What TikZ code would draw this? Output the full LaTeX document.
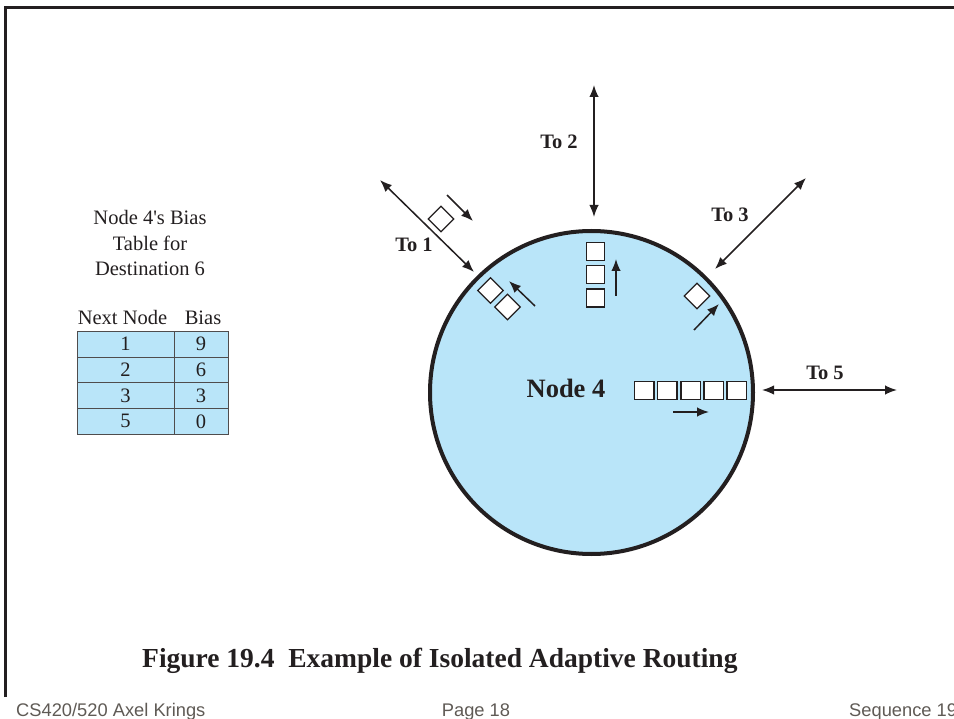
\documentclass[tikz,border=0pt]{standalone}
\usepackage{fontspec}
\setmainfont{Liberation Serif}
\newfontfamily\footfont{Liberation Sans}
\usetikzlibrary{arrows.meta}
\definecolor{nodeblue}{RGB}{185,229,249}
\definecolor{footgray}{RGB}{95,90,85}
\definecolor{ink}{RGB}{35,31,32}
\begin{document}
\begin{tikzpicture}[x=1pt,y=-1pt,
  link/.style={{Latex[length=12pt,width=9.5pt]}-{Latex[length=12pt,width=9.5pt]}, line width=1.5pt, draw=ink},
  flow/.style={-{Latex[length=12pt,width=9.5pt]}, line width=1.5pt, draw=ink},
  pkt/.style={draw=ink, fill=white, line width=1.3pt, minimum width=18pt, minimum height=18pt, inner sep=0pt, outer sep=0pt},
  qpkt/.style={pkt, minimum width=19.3pt, minimum height=18.3pt},
  lbl/.style={font=\fontsize{20.5}{24}\selectfont\bfseries, text=ink, inner sep=0pt},
  txt/.style={font=\fontsize{20.5}{25.5}\selectfont, text=ink, inner sep=0pt},
  cell/.style={draw=ink!80, fill=nodeblue, line width=1pt, minimum height=25.7pt, inner sep=0pt, outer sep=0pt, font=\fontsize{20.5}{24}\selectfont, text=ink},
  foot/.style={font=\footfont\fontsize{18.3}{22}\selectfont, text=footgray, inner sep=0pt},
]
\useasboundingbox (0,0) rectangle (954,719);
% frame
\draw[line width=2.5pt, draw=ink] (5.3,697) -- (5.3,7.3) -- (960,7.3);

% bias table
\node[txt, align=center] (title) at (150,243) {Node 4\textquotesingle s Bias\\Table for\\Destination 6};
\node[txt, anchor=base] (hnext) at (122.5,325) {Next Node};
\node[txt, anchor=base] (hbias) at (203,325) {Bias};
\node[cell, minimum width=97pt] (a1) at (125.5,344.2) {1};
\node[cell, minimum width=54pt] (b1) at (201,344.2) {9};
\node[cell, minimum width=97pt] (a2) at (125.5,369.9) {2};
\node[cell, minimum width=54pt] (b2) at (201,369.9) {6};
\node[cell, minimum width=97pt] (a3) at (125.5,395.6) {3};
\node[cell, minimum width=54pt] (b3) at (201,395.6) {3};
\node[cell, minimum width=97pt] (a4) at (125.5,421.3) {5};
\node[cell, minimum width=54pt] (b4) at (201,421.3) {0};

% node 4
\node[circle, draw=ink, line width=4pt, fill=nodeblue, minimum size=323pt, inner sep=0pt] (n4) at (591.5,392.5) {};
\node[font=\fontsize{26.5}{30}\selectfont\bfseries, text=ink, inner sep=0pt] (n4lbl) at (566,388) {Node 4};

% links
\coordinate (l1a) at (380,180); \coordinate (l1b) at (474,272);
\coordinate (l2a) at (594,85);  \coordinate (l2b) at (594,217);
\coordinate (l3a) at (715,269); \coordinate (l3b) at (806,178);
\coordinate (l5a) at (762,390); \coordinate (l5b) at (897,390);
\draw[link] (l1a) -- (l1b);
\draw[link] (l2a) -- (l2b);
\draw[link] (l3a) -- (l3b);
\draw[link] (l5a) -- (l5b);
\node[lbl] (t1) at (414,245) {To 1};
\node[lbl] (t2) at (559,142) {To 2};
\node[lbl] (t3) at (730,215) {To 3};
\node[lbl] (t5) at (825,373) {To 5};

% packets toward 1
\node[pkt, rotate=45] (p1) at (441,219) {};
\coordinate (f1a) at (447,195); \coordinate (f1b) at (473,221);
\draw[flow] (f1a) -- (f1b);
\node[pkt, rotate=45] (p2) at (490.5,290.5) {};
\node[pkt, rotate=45] (p3) at (507.5,307) {};
\coordinate (f2a) at (535,306); \coordinate (f2b) at (509,281);
\draw[flow] (f2a) -- (f2b);

% packets toward 2
\node[pkt] (q1) at (595.5,251.5) {};
\node[pkt] (q2) at (595.5,274.8) {};
\node[pkt] (q3) at (595.5,298) {};
\coordinate (f3a) at (616,296); \coordinate (f3b) at (616,259);
\draw[flow] (f3a) -- (f3b);

% packet toward 3
\node[pkt, rotate=45] (d3) at (697,296) {};
\coordinate (f4a) at (694,330); \coordinate (f4b) at (719,304);
\draw[flow] (f4a) -- (f4b);

% packets toward 5
\node[qpkt] (r1) at (644.3,390.5) {};
\node[qpkt] (r2) at (667.4,390.5) {};
\node[qpkt] (r3) at (690.5,390.5) {};
\node[qpkt] (r4) at (713.6,390.5) {};
\node[qpkt] (r5) at (736.7,390.5) {};
\coordinate (f5a) at (673,412); \coordinate (f5b) at (709,412);
\draw[flow] (f5a) -- (f5b);

% caption and footer
\node[font=\fontsize{27.5}{32}\selectfont\bfseries, text=ink, inner sep=0pt, anchor=base west] (cap) at (142,667) {Figure 19.4\ \ Example of Isolated Adaptive Routing};
\node[foot, anchor=base west] (fl) at (16,716) {CS420/520 Axel Krings};
\node[foot, anchor=base] (fc) at (476,716) {Page 18};
\node[foot, anchor=base west] (fr) at (849,716) {Sequence 19};
\end{tikzpicture}
\end{document}
